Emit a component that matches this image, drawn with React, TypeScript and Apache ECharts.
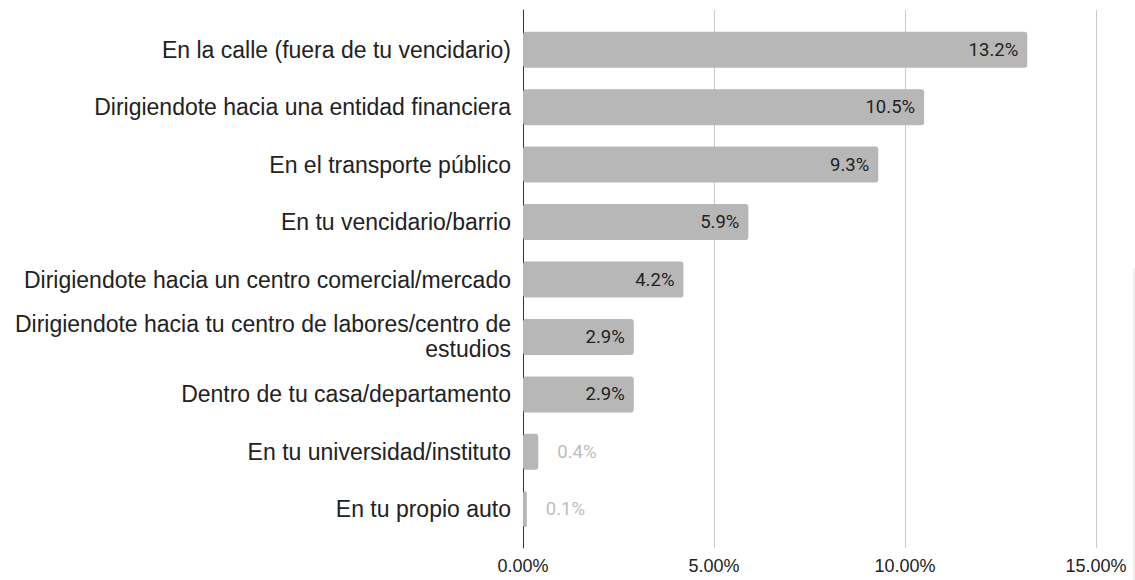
import React, { useEffect, useRef } from "react";
import * as echarts from "echarts";

const categories = [
  "En la calle (fuera de tu vencidario)",
  "Dirigiendote hacia una entidad financiera",
  "En el transporte público",
  "En tu vencidario/barrio",
  "Dirigiendote hacia un centro comercial/mercado",
  "Dirigiendote hacia tu centro de labores/centro de\nestudios",
  "Dentro de tu casa/departamento",
  "En tu universidad/instituto",
  "En tu propio auto",
];
const values = [13.2, 10.5, 9.3, 5.9, 4.2, 2.9, 2.9, 0.4, 0.1];
const xTicks = [0, 5, 10, 15];
const insideThreshold = 1;

export default function App() {
  const ref = useRef<HTMLDivElement>(null);
  useEffect(() => {
    if (!ref.current) return;
    const chart = echarts.init(ref.current, null, { renderer: "svg" });
    const left = 523;
    const right = 1135 - 1096;
    chart.setOption({
      animation: false,
      grid: [
        { left, right, top: 10, bottom: 580 - 548 },
        { left, right, top: 21, bottom: 580 - 538 },
      ],
      xAxis: [
        {
          gridIndex: 0,
          type: "value",
          min: xTicks[0],
          max: xTicks[xTicks.length - 1],
          interval: 5,
          axisLine: { show: false },
          axisTick: { show: false },
          splitLine: { show: true, lineStyle: { color: "#cccccc", width: 1 } },
          axisLabel: {
            formatter: (v: number) => v.toFixed(2) + "%",
            color: "#222",
            fontFamily: "Liberation Sans",
            fontSize: 18,
            margin: 9,
          },
        },
        {
          gridIndex: 1,
          type: "value",
          min: 0,
          max: 15,
          show: false,
        },
      ],
      yAxis: [
        {
          gridIndex: 0,
          type: "value",
          min: 0,
          max: 1,
          axisLine: { show: true, onZero: false, lineStyle: { color: "#333", width: 1 } },
          axisTick: { show: false },
          axisLabel: { show: false },
          splitLine: { show: false },
        },
        {
          gridIndex: 1,
          type: "category",
          inverse: true,
          data: categories,
          axisLine: { show: false },
          axisTick: { show: false },
          axisLabel: {
            color: "#222",
            fontFamily: "Liberation Sans",
            fontSize: 23,
            margin: 12,
            lineHeight: 25,
            align: "right",
          },
        },
      ],
      series: [
        {
          type: "bar",
          xAxisIndex: 1,
          yAxisIndex: 1,
          barWidth: 36,
          data: values.map((v) => ({
            value: v,
            label:
              v > insideThreshold
                ? { position: "insideRight", color: "#222", distance: 9 }
                : { position: "right", color: "#bdbdbd", distance: 19 },
          })),
          itemStyle: { color: "#b7b7b7", borderRadius: 3 },
          label: {
            show: true,
            formatter: (p: any) => p.value.toFixed(1) + "%",
            fontFamily: "Roboto",
            fontSize: 18.5,
          },
        },
      ],
      graphic: [
        {
          type: "line",
          shape: { x1: 1134, y1: 268, x2: 1134, y2: 580 },
          style: { stroke: "#e0e0e0", lineWidth: 1 },
        },
      ],
    });
    return () => chart.dispose();
  }, []);
  return (
    <div
      ref={ref}
      style={{ position: "fixed", left: 0, top: 0, width: 1135, height: 580, background: "#fff" }}
    />
  );
}
